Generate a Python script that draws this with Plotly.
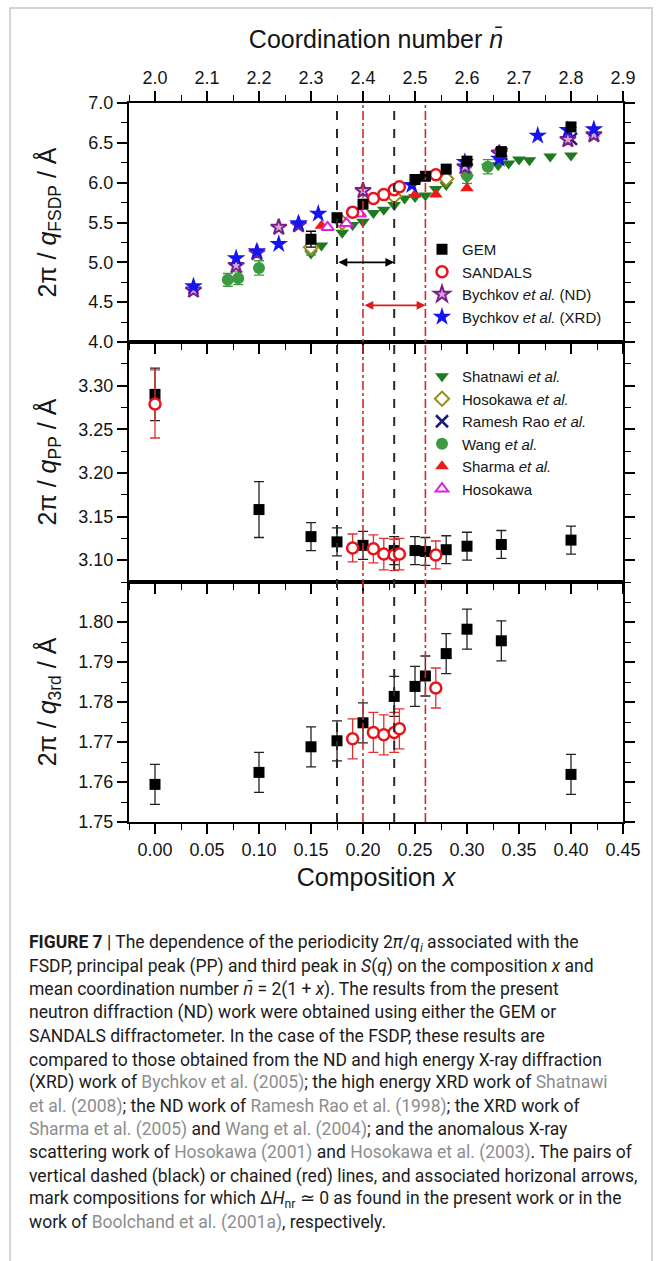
import plotly.graph_objects as go
from plotly.subplots import make_subplots

# ---------------- data ----------------
# FSDP periodicity 2*pi/q_FSDP (Angstrom) versus composition x
gem_fsdp_x = [0.15, 0.175, 0.20, 0.25, 0.26, 0.28, 0.30, 0.333, 0.40]
gem_fsdp_y = [5.29, 5.56, 5.73, 6.04, 6.08, 6.17, 6.27, 6.39, 6.70]
gem_fsdp_err = [0.10, 0.05, 0.04, 0.04, 0.04, 0.04, 0.04, 0.04, 0.04]

sandals_fsdp_x = [0.19, 0.21, 0.22, 0.23, 0.235, 0.27]
sandals_fsdp_y = [5.63, 5.80, 5.85, 5.91, 5.95, 6.10]

bychkov_nd_x = [0.037, 0.078, 0.098, 0.119, 0.138, 0.20, 0.298, 0.331, 0.397, 0.422]
bychkov_nd_y = [4.65, 4.96, 5.12, 5.44, 5.47, 5.90, 6.20, 6.37, 6.54, 6.60]

bychkov_xrd_x = [0.037, 0.078, 0.098, 0.119, 0.138, 0.157, 0.247, 0.298, 0.331, 0.368, 0.397, 0.422]
bychkov_xrd_y = [4.70, 5.05, 5.14, 5.23, 5.49, 5.61, 5.97, 6.26, 6.30, 6.59, 6.66, 6.67]

shatnawi_x = [0.15, 0.16, 0.18, 0.19, 0.20, 0.21, 0.22, 0.23, 0.24, 0.25, 0.26,
              0.27, 0.28, 0.30, 0.32, 0.33, 0.34, 0.35, 0.36, 0.38, 0.40]
shatnawi_y = [5.11, 5.21, 5.37, 5.47, 5.51, 5.62, 5.66, 5.72, 5.80, 5.82, 5.84,
              5.92, 5.97, 6.06, 6.20, 6.22, 6.24, 6.29, 6.28, 6.33, 6.34]

hosokawa_etal_x = [0.15, 0.18, 0.23, 0.28]
hosokawa_etal_y = [5.19, 5.50, 5.83, 6.05]

ramesh_rao_x = [0.333, 0.40]
ramesh_rao_y = [6.36, 6.55]

wang_x = [0.07, 0.08, 0.10, 0.15, 0.30, 0.32]
wang_y = [4.78, 4.80, 4.93, 5.16, 6.09, 6.20]
wang_err = [0.08, 0.08, 0.09, 0.07, 0.10, 0.09]

sharma_x = [0.16, 0.25, 0.27, 0.30]
sharma_y = [5.46, 5.85, 5.85, 5.93]

hosokawa_x = [0.166, 0.184, 0.197]
hosokawa_y = [5.44, 5.49, 5.61]

# principal peak periodicity 2*pi/q_PP
gem_pp_x = [0.0, 0.10, 0.15, 0.175, 0.20, 0.23, 0.25, 0.26, 0.28, 0.30, 0.333, 0.40]
gem_pp_y = [3.290, 3.158, 3.127, 3.121, 3.117, 3.111, 3.111, 3.110, 3.112, 3.116, 3.118, 3.123]
gem_pp_err = [0.030, 0.032, 0.016, 0.016, 0.016, 0.016, 0.016, 0.016, 0.016, 0.016, 0.016, 0.016]
sandals_pp_x = [0.0, 0.19, 0.21, 0.22, 0.23, 0.235, 0.27]
sandals_pp_y = [3.279, 3.114, 3.113, 3.107, 3.106, 3.107, 3.106]
sandals_pp_err = [0.039, 0.016, 0.016, 0.018, 0.018, 0.018, 0.016]

# third peak periodicity 2*pi/q_3rd
gem_3rd_x = gem_pp_x
gem_3rd_y = [1.7594, 1.7624, 1.7688, 1.7703, 1.7748, 1.7814, 1.7839, 1.7865, 1.7921, 1.7982, 1.7953, 1.7619]
gem_3rd_err = [0.005] * 12
sandals_3rd_x = [0.19, 0.21, 0.22, 0.23, 0.235, 0.27]
sandals_3rd_y = [1.7708, 1.7724, 1.7718, 1.7724, 1.7733, 1.7835]
sandals_3rd_err = [0.005] * 6

# windows where Delta H_nr ~ 0: present work (black) and Boolchand et al. (red)
present_window = [0.175, 0.23]
boolchand_window = [0.20, 0.26]
arrow_levels = [5.0, 4.46]

# axis ticks
x_ticks = [0.00, 0.05, 0.10, 0.15, 0.20, 0.25, 0.30, 0.35, 0.40, 0.45]
nbar_ticks = [2.0, 2.1, 2.2, 2.3, 2.4, 2.5, 2.6, 2.7, 2.8, 2.9]
fsdp_ticks = [4.0, 4.5, 5.0, 5.5, 6.0, 6.5, 7.0]
pp_ticks = [3.10, 3.15, 3.20, 3.25, 3.30]
third_ticks = [1.75, 1.76, 1.77, 1.78, 1.79, 1.80]

caption_lines = [
    "<b>FIGURE 7</b> | The dependence of the periodicity 2<i>π</i>/<i>q<sub>i</sub></i> associated with the",
    "FSDP, principal peak (PP) and third peak in <i>S</i>(<i>q</i>) on the composition <i>x</i> and",
    "mean coordination number <i>n̄</i> = 2(1 + <i>x</i>). The results from the present",
    "neutron diffraction (ND) work were obtained using either the GEM or",
    "SANDALS diffractometer. In the case of the FSDP, these results are",
    "compared to those obtained from the ND and high energy X-ray diffraction",
    "(XRD) work of <span style='color:#8d8d8d'>Bychkov et al. (2005)</span>; the high energy XRD work of <span style='color:#8d8d8d'>Shatnawi</span>",
    "<span style='color:#8d8d8d'>et al. (2008)</span>; the ND work of <span style='color:#8d8d8d'>Ramesh Rao et al. (1998)</span>; the XRD work of",
    "<span style='color:#8d8d8d'>Sharma et al. (2005)</span> and <span style='color:#8d8d8d'>Wang et al. (2004)</span>; and the anomalous X-ray",
    "scattering work of <span style='color:#8d8d8d'>Hosokawa (2001)</span> and <span style='color:#8d8d8d'>Hosokawa et al. (2003)</span>. The pairs of",
    "vertical dashed (black) or chained (red) lines, and associated horizonal arrows,",
    "mark compositions for which Δ<i>H</i><sub>nr</sub> ≃ 0 as found in the present work or in the",
    "work of <span style='color:#8d8d8d'>Boolchand et al. (2001a)</span>, respectively.",
]

# ---------------- layout geometry ----------------
W, H = 659, 1261
ML, MR, MT, MB = 129, 36, 103, 439
PW = W - ML - MR
PH = H - MT - MB
FONT = "Liberation Sans, Arial, sans-serif"
INK = "#151515"


def px2x(px):
    return (px - ML) / PW


def py2y(py):
    return (H - MB - py) / PH


fig = make_subplots(rows=3, cols=1, shared_xaxes=True, vertical_spacing=0)


def err(arr, color):
    return dict(type="data", array=arr, visible=True, color=color, thickness=1.3, width=5)


# --- top panel: FSDP ---
top_series = [
    ("Shatnawi <i>et al.</i>", shatnawi_x, shatnawi_y, None,
     dict(symbol="triangle-down", size=12, color="#1f7a1f"), "legend2", 5),
    ("Wang <i>et al.</i>", wang_x, wang_y, wang_err,
     dict(symbol="circle", size=12, color="#3c9a40"), "legend2", 8),
    ("Hosokawa <i>et al.</i>", hosokawa_etal_x, hosokawa_etal_y, None,
     dict(symbol="diamond", size=11, color="white", line=dict(color="#9a8c1c", width=2)), "legend2", 6),
    ("Ramesh Rao <i>et al.</i>", ramesh_rao_x, ramesh_rao_y, None,
     dict(symbol="x-thin-open", size=12, color="#1c1c78", line=dict(color="#1c1c78", width=2.5)), "legend2", 7),
    ("Sharma <i>et al.</i>", sharma_x, sharma_y, None,
     dict(symbol="triangle-up", size=12, color="#ee1a1a"), "legend2", 9),
    ("Hosokawa", hosokawa_x, hosokawa_y, None,
     dict(symbol="triangle-up", size=11, color="white", line=dict(color="#dd22dd", width=2)), "legend2", 10),
    ("Bychkov <i>et al.</i> (ND)", bychkov_nd_x, bychkov_nd_y, None,
     dict(symbol="star", size=12, color="#d9a6d9", line=dict(color="#7a1f8a", width=2)), "legend", 3),
    ("Bychkov <i>et al.</i> (XRD)", bychkov_xrd_x, bychkov_xrd_y, None,
     dict(symbol="star", size=14, color="#1414f0"), "legend", 4),
    ("SANDALS", sandals_fsdp_x, sandals_fsdp_y, None,
     dict(symbol="circle", size=11, color="white", line=dict(color="#e8141c", width=2.5)), "legend", 2),
    ("GEM", gem_fsdp_x, gem_fsdp_y, gem_fsdp_err,
     dict(symbol="square", size=11, color="black"), "legend", 1),
]
for name, xs, ys, es, mk, lg, rank in top_series:
    fig.add_trace(go.Scatter(
        x=xs, y=ys, mode="markers", name=name, marker=mk, legend=lg, legendrank=rank,
        error_y=err(es, mk.get("line", {}).get("color", mk["color"])) if es else None,
    ), row=1, col=1)

# hidden trace that binds the top (coordination number) axis
fig.add_trace(go.Scatter(
    x=[2 * (1 + v) for v in gem_fsdp_x], y=gem_fsdp_y, xaxis="x4", yaxis="y",
    mode="markers", marker=dict(opacity=0), showlegend=False, hoverinfo="skip"))

# --- middle panel: principal peak ---
fig.add_trace(go.Scatter(x=gem_pp_x, y=gem_pp_y, mode="markers", showlegend=False,
                         marker=dict(symbol="square", size=11, color="black"),
                         error_y=err(gem_pp_err, "#222222")), row=2, col=1)
fig.add_trace(go.Scatter(x=sandals_pp_x, y=sandals_pp_y, mode="markers", showlegend=False,
                         marker=dict(symbol="circle", size=11, color="white",
                                     line=dict(color="#e8141c", width=2.5)),
                         error_y=err(sandals_pp_err, "#e03030")), row=2, col=1)

# --- bottom panel: third peak ---
fig.add_trace(go.Scatter(x=gem_3rd_x, y=gem_3rd_y, mode="markers", showlegend=False,
                         marker=dict(symbol="square", size=11, color="black"),
                         error_y=err(gem_3rd_err, "#222222")), row=3, col=1)
fig.add_trace(go.Scatter(x=sandals_3rd_x, y=sandals_3rd_y, mode="markers", showlegend=False,
                         marker=dict(symbol="circle", size=11, color="white",
                                     line=dict(color="#e8141c", width=2.5)),
                         error_y=err(sandals_3rd_err, "#e03030")), row=3, col=1)

# ---------------- axes ----------------
tickfont = dict(family=FONT, size=18, color=INK)
titlefont = dict(family=FONT, size=25, color=INK)
common = dict(showline=True, linewidth=2, linecolor="black", ticks="outside", ticklen=10,
              tickwidth=1.6, tickcolor="black", tickfont=tickfont, showgrid=False, zeroline=False)

x_range = [-0.025, 0.45]
for r in (1, 2, 3):
    fig.update_xaxes(range=x_range, mirror=True, tickvals=x_ticks, tickformat=".2f",
                     minor=dict(tick0=-0.025, dtick=0.025, ticks="outside", ticklen=6,
                                tickwidth=1.4, tickcolor="black"),
                     row=r, col=1, **common)
fig.update_xaxes(title=dict(text="Composition <i>x</i>", font=titlefont, standoff=10), row=3, col=1)

ylayout = [
    (1, [4.0, 7.0], fsdp_ticks, ".1f", 0.25, 4.0, "2π / <i>q</i><sub>FSDP</sub> / Å", 25),
    (2, [3.075, 3.35], pp_ticks, ".2f", 0.025, 3.075, "2π / <i>q</i><sub>PP</sub> / Å", 15),
    (3, [1.75, 1.81], third_ticks, ".2f", 0.005, 1.75, "2π / <i>q</i><sub>3rd</sub> / Å", 15),
]
for r, rng, tv, fmt, mdt, mt0, title, so in ylayout:
    fig.update_yaxes(range=rng, tickvals=tv, tickformat=fmt, mirror="ticks",
                     minor=dict(tick0=mt0, dtick=mdt, ticks="outside", ticklen=6,
                                tickwidth=1.4, tickcolor="black"),
                     title=dict(text=title, font=titlefont, standoff=so),
                     row=r, col=1, **common)

fig.update_layout(
    yaxis=dict(domain=[py2y(342), 1.0]),
    yaxis2=dict(domain=[py2y(582), py2y(342)]),
    yaxis3=dict(domain=[0.0, py2y(582)]),
    xaxis4=dict(overlaying="x", side="top", anchor="y", range=[2 * (1 + x_range[0]), 2 * (1 + x_range[1])],
                tickvals=nbar_ticks, tickformat=".1f",
                minor=dict(tick0=1.95, dtick=0.05, ticks="outside", ticklen=6, tickwidth=1.4, tickcolor="black"),
                title=dict(text="Coordination number <i>n̄</i>", font=titlefont, standoff=12),
                **common),
)

# ---------------- window lines and arrows ----------------
shapes = []
for xv in present_window:
    shapes.append(dict(type="line", xref="x", yref="paper", x0=xv, x1=xv, y0=0, y1=1,
                       line=dict(color="#2a2a2a", width=2, dash="dash")))
for xv in boolchand_window:
    shapes.append(dict(type="line", xref="x", yref="paper", x0=xv, x1=xv, y0=0, y1=1,
                       line=dict(color="#d42a2a", width=1.6, dash="dashdot")))
# outer frame of the figure panel
shapes.append(dict(type="rect", xref="paper", yref="paper", x0=px2x(10), x1=px2x(652),
                   y0=py2y(1265), y1=py2y(8), line=dict(color="#c6c6c6", width=1.5), layer="below"))

annotations = []
for win, lvl, col in ((present_window, arrow_levels[0], "black"),
                      (boolchand_window, arrow_levels[1], "#e01a1a")):
    annotations.append(dict(x=win[1], y=lvl, ax=win[0], ay=lvl, xref="x", yref="y", axref="x", ayref="y",
                            text="", showarrow=True, arrowhead=2, arrowside="end+start",
                            arrowsize=1.1, arrowwidth=1.6, arrowcolor=col))

line0, dline = 943, 23.3
for i, txt in enumerate(caption_lines):
    annotations.append(dict(xref="paper", yref="paper", x=px2x(27), y=py2y(line0 + i * dline),
                            xanchor="left", yanchor="middle", showarrow=False, align="left",
                            text=txt, font=dict(family="Roboto, Liberation Sans, sans-serif",
                                                size=17.5, color="#1c1c1c")))

fig.update_layout(
    width=W, height=H, margin=dict(l=ML, r=MR, t=MT, b=MB),
    paper_bgcolor="white", plot_bgcolor="white",
    shapes=shapes, annotations=annotations,
    font=dict(family=FONT, color=INK),
    legend=dict(x=px2x(422), y=py2y(233), xanchor="left", yanchor="top",
                bgcolor="rgba(0,0,0,0)", font=dict(family=FONT, size=15, color=INK), traceorder="normal"),
    legend2=dict(x=px2x(422), y=py2y(360), xanchor="left", yanchor="top",
                 bgcolor="rgba(0,0,0,0)", font=dict(family=FONT, size=15, color=INK), traceorder="normal"),
)

fig.write_html("out.html")
